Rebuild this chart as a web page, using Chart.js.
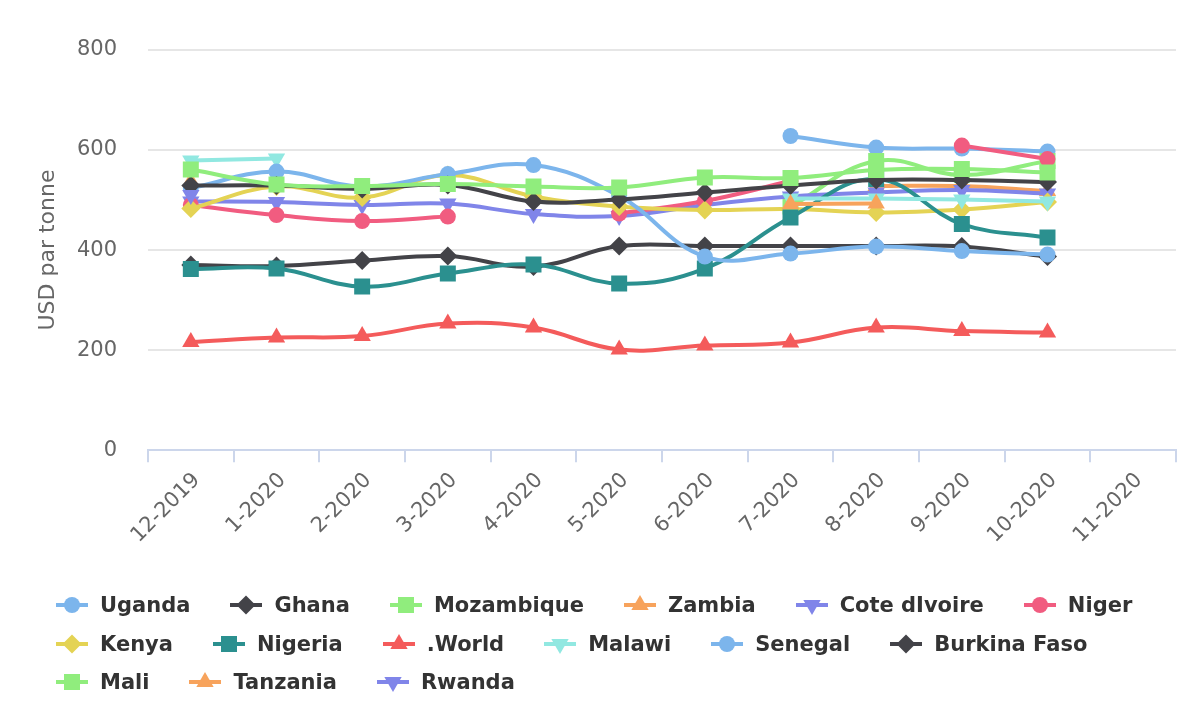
<!DOCTYPE html>
<html>
<head>
<meta charset="utf-8">
<script src="https://cdn.jsdelivr.net/npm/chart.js@4/dist/chart.umd.min.js"></script>
<style>
html,body{margin:0;padding:0;background:#ffffff;}
#wrap{position:relative;width:1188px;height:706px;overflow:hidden;}
#legend{position:absolute;left:56px;top:586px;font-family:'DejaVu Sans',sans-serif;font-weight:bold;font-size:21px;color:#333333;}
.row{display:flex;height:38.5px;align-items:center;white-space:nowrap;}
.item{display:flex;align-items:center;margin-right:40px;}
.item canvas{margin-right:12px;display:block;}
</style>
</head>
<body>
<div id="wrap">
<canvas id="c" width="1188" height="706"></canvas>
<div id="legend"></div>
</div>
<script>
// ---- categories / ticks ----
const categories = ['12-2019','1-2020','2-2020','3-2020','4-2020','5-2020','6-2020','7-2020','8-2020','9-2020','10-2020','11-2020'];
const yTicks = [0, 200, 400, 600, 800];

// ---- series values (USD par tonne) ----
const uganda      = [null, null, null, null, null, null, null, 628, 605, 603, 597, null];
const ghana       = [370, 368, 379, 388, 367, 408, 408, 408, 408, 407, 387, null];
const mozambique  = [null, null, null, null, null, null, null, 487, 578, 550, 578, null];
const zambia      = [537, null, null, null, null, null, null, null, 528, 528, 518, null];
const coteDIvoire = [497, 496, 490, 493, 472, 468, 490, 507, 515, 520, 513, null];
const niger       = [490, 470, 458, 467, null, 473, 498, 538, null, 609, 582, null];
const kenya       = [483, 527, 505, 550, 507, 487, 480, 482, 475, 481, 496, null];
const nigeria     = [362, 363, 327, 353, 371, 333, 363, 465, 542, 452, 425, null];
const world       = [216, 225, 228, 253, 245, 201, 209, 215, 245, 238, 235, null];
const malawi      = [579, 583, null, null, null, null, null, 503, 503, 501, 497, null];
const senegal     = [524, 557, 527, 552, 570, 508, 387, 393, 407, 398, 391, null];
const burkinaFaso = [529, 529, 522, 530, 497, 501, 515, 529, 540, 540, 536, null];
const mali        = [561, 531, 528, 532, 527, 525, 545, 544, 560, 562, 555, null];
const tanzania    = [null, null, null, null, null, null, null, 492, 493, null, null, null];
const rwanda      = [510, null, null, null, null, null, null, null, null, null, null, null];

const seriesNames = ['Uganda','Ghana','Mozambique','Zambia','Cote dIvoire','Niger','Kenya','Nigeria','.World','Malawi','Senegal','Burkina Faso','Mali','Tanzania','Rwanda'];
const seriesValues = [uganda, ghana, mozambique, zambia, coteDIvoire, niger, kenya, nigeria, world, malawi, senegal, burkinaFaso, mali, tanzania, rwanda];

// ---- styles ----
const palette = ['#7cb5ec','#434348','#90ed7d','#f7a35c','#8085e9','#f15c80','#e4d354','#2b908f','#f45b5b','#91e8e1'];
const symbolCycle = ['circle','diamond','square','triangle','triangle-down'];
const MARKERS = {
  'circle':        {pointStyle:'circle',   radius:8,    rotation:0},
  'diamond':       {pointStyle:'rectRot',  radius:9.5,  rotation:0},
  'square':        {pointStyle:'rect',     radius:11.3, rotation:0},
  'triangle':      {pointStyle:'triangle', radius:10,   rotation:0},
  'triangle-down': {pointStyle:'triangle', radius:10,   rotation:180}
};
const legendRows = [6, 6, 3];

Chart.defaults.font.family = "'DejaVu Sans', sans-serif";

const datasets = seriesNames.map((name, i) => {
  const color = palette[i % palette.length];
  const m = MARKERS[symbolCycle[i % symbolCycle.length]];
  return {
    label: name,
    data: seriesValues[i],
    borderColor: color,
    backgroundColor: color,
    borderWidth: 4,
    tension: 0.4,
    spanGaps: false,
    pointStyle: m.pointStyle,
    pointRadius: m.radius,
    pointHoverRadius: m.radius,
    pointRotation: m.rotation,
    pointBorderWidth: 0,
    pointBackgroundColor: color,
    order: seriesNames.length - i
  };
});

new Chart(document.getElementById('c'), {
  type: 'line',
  data: { labels: categories, datasets: datasets },
  options: {
    responsive: false,
    animation: false,
    events: [],
    layout: { padding: { top: 50, right: 12, bottom: 152, left: 0 } },
    plugins: { legend: { display: false }, tooltip: { enabled: false } },
    scales: {
      x: {
        type: 'category',
        offset: true,
        grid: { offset: true, drawOnChartArea: false, color: '#ccd6eb', lineWidth: 2, tickLength: 12 },
        border: { color: '#ccd6eb', width: 2 },
        ticks: { color: '#666666', font: { size: 21 }, minRotation: 45, maxRotation: 45, autoSkip: false, padding: 6, labelOffset: 6 }
      },
      y: {
        min: 0, max: 800,
        afterBuildTicks: (axis) => { axis.ticks = yTicks.map(v => ({ value: v })); },
        afterFit: (axis) => { axis.width = 148; },
        grid: { color: '#e6e6e6', lineWidth: 2, drawTicks: false },
        border: { display: false },
        ticks: { color: '#666666', font: { size: 21 }, padding: 31 },
        title: { display: true, text: 'USD par tonne', color: '#666666', font: { size: 22 }, padding: { top: 35, bottom: 0 } }
      }
    }
  }
});

// ---- legend (Highcharts-like: line + marker, rows left-aligned) ----
function drawMarker(ctx, m, x, y) {
  if (Chart.helpers && Chart.helpers.drawPoint) {
    Chart.helpers.drawPoint(ctx, { pointStyle: m.pointStyle, radius: m.radius, rotation: m.rotation, borderWidth: 0 }, x, y);
    return;
  }
  const r = m.radius;
  ctx.beginPath();
  if (m.pointStyle === 'circle') ctx.arc(x, y, r, 0, Math.PI * 2);
  else if (m.pointStyle === 'rect') { const s = r * Math.SQRT1_2; ctx.rect(x - s, y - s, 2 * s, 2 * s); }
  else if (m.pointStyle === 'rectRot') { ctx.moveTo(x - r, y); ctx.lineTo(x, y - r); ctx.lineTo(x + r, y); ctx.lineTo(x, y + r); ctx.closePath(); }
  else {
    let rad = m.rotation * Math.PI / 180;
    for (let k = 0; k < 3; k++) { const px = x + Math.sin(rad) * r, py = y - Math.cos(rad) * r; k ? ctx.lineTo(px, py) : ctx.moveTo(px, py); rad += 2 * Math.PI / 3; }
    ctx.closePath();
  }
  ctx.fill();
}
const legendEl = document.getElementById('legend');
let idx = 0;
legendRows.forEach(n => {
  const row = document.createElement('div');
  row.className = 'row';
  for (let k = 0; k < n; k++, idx++) {
    const item = document.createElement('div');
    item.className = 'item';
    const cv = document.createElement('canvas');
    cv.width = 32; cv.height = 24;
    const ctx = cv.getContext('2d');
    const color = palette[idx % palette.length];
    ctx.strokeStyle = color; ctx.fillStyle = color; ctx.lineWidth = 4;
    ctx.beginPath(); ctx.moveTo(0, 12); ctx.lineTo(32, 12); ctx.stroke();
    drawMarker(ctx, MARKERS[symbolCycle[idx % symbolCycle.length]], 16, 12);
    const span = document.createElement('span');
    span.textContent = seriesNames[idx];
    item.appendChild(cv); item.appendChild(span);
    row.appendChild(item);
  }
  legendEl.appendChild(row);
});
</script>
</body>
</html>
